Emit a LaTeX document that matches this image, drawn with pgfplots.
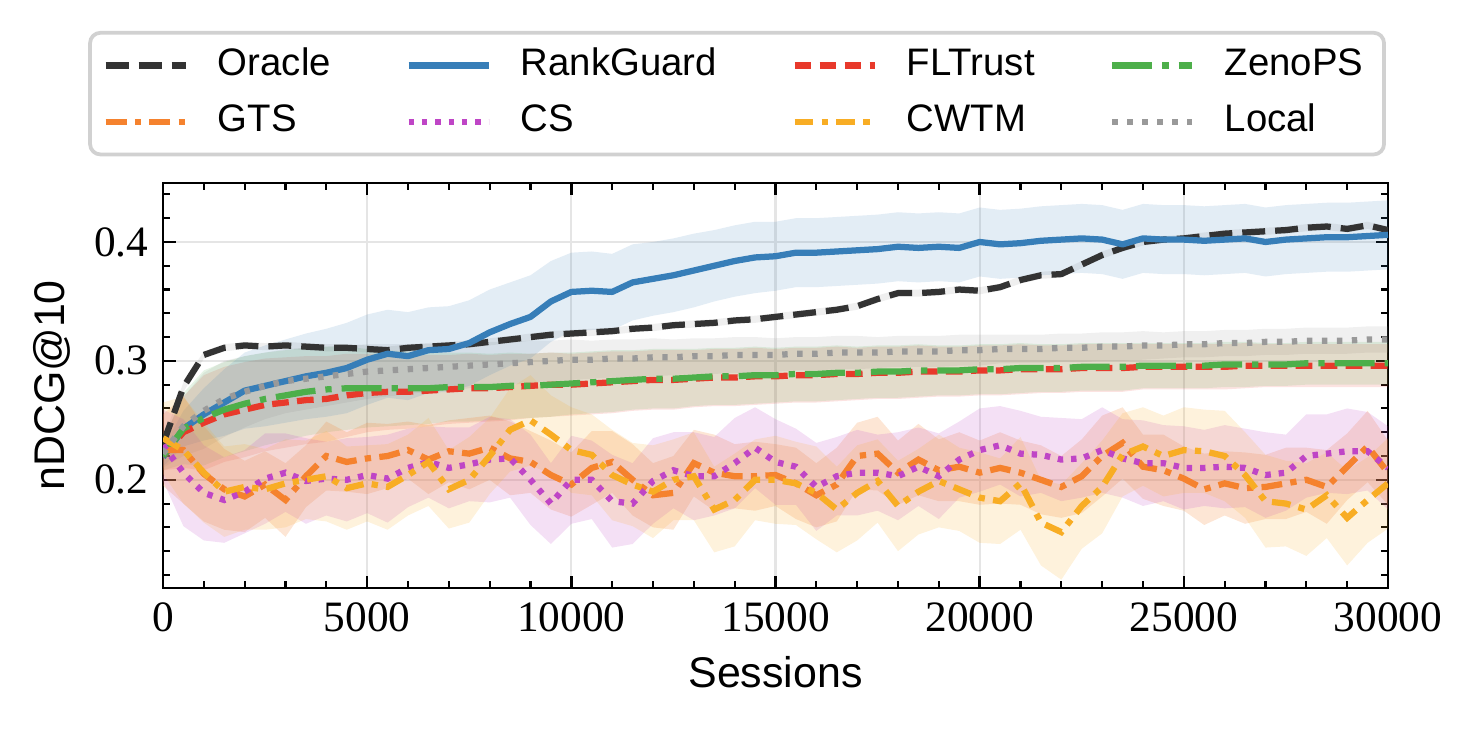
\documentclass[border=0pt]{standalone}
\usepackage{pgfplots}
\pgfplotsset{compat=1.18}
\usepackage{pgfplotstable}
\usepgfplotslibrary{fillbetween}
\usepackage{fontspec}
\setmainfont{Liberation Sans}
\newfontfamily\serifnum{Liberation Serif}

\definecolor{cOR}{HTML}{333333}
\definecolor{cRG}{HTML}{377EB8}
\definecolor{cFL}{HTML}{E8392B}
\definecolor{cZE}{HTML}{4DAF4A}
\definecolor{cGT}{HTML}{F5822E}
\definecolor{cCS}{HTML}{BF45C6}
\definecolor{cCW}{HTML}{F8AD24}
\definecolor{cLO}{HTML}{999999}

\pgfplotstableread{
x     or    ors   rg    rgs   fl    fls   ze    zes   gt    gts   cs    css   cw    cws   lo    los
0     0.230 0.003 0.219 0.008 0.220 0.012 0.220 0.012 0.225 0.030 0.229 0.030 0.235 0.030 0.222 0.012
500   0.278 0.004 0.243 0.015 0.240 0.030 0.243 0.030 0.225 0.045 0.206 0.045 0.225 0.045 0.245 0.025
1000  0.305 0.003 0.255 0.022 0.248 0.040 0.252 0.040 0.205 0.040 0.189 0.040 0.206 0.042 0.258 0.032
1500  0.311 0.003 0.265 0.028 0.255 0.040 0.259 0.040 0.192 0.034 0.183 0.036 0.190 0.038 0.268 0.032
2000  0.313 0.003 0.275 0.032 0.259 0.040 0.264 0.040 0.186 0.030 0.190 0.035 0.194 0.036 0.274 0.030
2500  0.312 0.003 0.279 0.034 0.263 0.039 0.268 0.039 0.196 0.028 0.201 0.038 0.192 0.034 0.279 0.028
3000  0.313 0.003 0.283 0.035 0.265 0.038 0.271 0.038 0.183 0.031 0.206 0.033 0.197 0.037 0.283 0.027
3500  0.312 0.003 0.287 0.036 0.267 0.037 0.274 0.037 0.203 0.026 0.199 0.036 0.200 0.033 0.285 0.026
4000  0.311 0.003 0.290 0.037 0.268 0.036 0.276 0.036 0.220 0.029 0.201 0.031 0.203 0.038 0.287 0.025
4500  0.311 0.003 0.294 0.038 0.271 0.035 0.277 0.035 0.215 0.025 0.200 0.035 0.193 0.035 0.289 0.024
5000  0.310 0.003 0.301 0.038 0.273 0.033 0.277 0.033 0.218 0.030 0.204 0.032 0.197 0.032 0.291 0.023
5500  0.309 0.003 0.306 0.037 0.274 0.032 0.277 0.032 0.220 0.027 0.201 0.037 0.194 0.036 0.292 0.022
6000  0.311 0.003 0.304 0.037 0.274 0.031 0.277 0.031 0.225 0.024 0.210 0.033 0.204 0.034 0.293 0.021
6500  0.312 0.003 0.309 0.036 0.275 0.030 0.277 0.030 0.217 0.029 0.215 0.030 0.215 0.037 0.294 0.020
7000  0.313 0.003 0.310 0.036 0.276 0.029 0.278 0.029 0.224 0.026 0.210 0.034 0.192 0.033 0.295 0.020
7500  0.314 0.003 0.315 0.036 0.277 0.029 0.278 0.029 0.222 0.030 0.213 0.031 0.200 0.036 0.296 0.019
8000  0.316 0.003 0.324 0.036 0.277 0.028 0.278 0.028 0.227 0.027 0.217 0.036 0.220 0.032 0.297 0.019
8500  0.318 0.003 0.331 0.035 0.278 0.028 0.279 0.028 0.218 0.031 0.218 0.033 0.242 0.035 0.298 0.018
9000  0.320 0.003 0.337 0.035 0.279 0.027 0.279 0.027 0.215 0.026 0.200 0.038 0.250 0.038 0.299 0.018
9500  0.322 0.003 0.350 0.034 0.280 0.027 0.280 0.027 0.204 0.029 0.180 0.034 0.238 0.033 0.300 0.017
10000 0.323 0.003 0.358 0.033 0.280 0.026 0.281 0.026 0.196 0.027 0.200 0.037 0.225 0.036 0.301 0.017
10500 0.324 0.003 0.359 0.033 0.281 0.026 0.282 0.026 0.210 0.031 0.200 0.033 0.221 0.034 0.301 0.016
11000 0.325 0.003 0.358 0.032 0.282 0.026 0.283 0.026 0.215 0.026 0.182 0.039 0.204 0.038 0.302 0.016
11500 0.327 0.003 0.366 0.032 0.283 0.025 0.284 0.025 0.200 0.030 0.180 0.034 0.196 0.035 0.302 0.016
12000 0.328 0.003 0.369 0.031 0.284 0.025 0.285 0.025 0.187 0.027 0.199 0.036 0.190 0.039 0.303 0.016
12500 0.330 0.003 0.372 0.031 0.284 0.025 0.285 0.025 0.189 0.031 0.208 0.032 0.200 0.034 0.303 0.015
13000 0.331 0.003 0.376 0.031 0.285 0.024 0.286 0.024 0.214 0.028 0.203 0.037 0.203 0.037 0.304 0.015
13500 0.332 0.003 0.380 0.030 0.286 0.024 0.287 0.024 0.206 0.032 0.203 0.033 0.175 0.036 0.304 0.015
14000 0.334 0.003 0.384 0.030 0.286 0.024 0.287 0.024 0.203 0.027 0.214 0.038 0.183 0.039 0.305 0.015
14500 0.335 0.003 0.387 0.030 0.287 0.024 0.288 0.024 0.203 0.029 0.227 0.034 0.200 0.034 0.305 0.015
15000 0.337 0.003 0.388 0.029 0.287 0.023 0.288 0.023 0.204 0.026 0.215 0.036 0.200 0.037 0.305 0.014
15500 0.339 0.003 0.391 0.029 0.288 0.023 0.289 0.023 0.197 0.030 0.211 0.032 0.197 0.035 0.306 0.014
16000 0.341 0.003 0.391 0.029 0.288 0.023 0.289 0.023 0.187 0.027 0.194 0.037 0.189 0.039 0.306 0.014
16500 0.343 0.003 0.392 0.029 0.289 0.023 0.290 0.023 0.196 0.031 0.203 0.033 0.175 0.036 0.307 0.014
17000 0.346 0.003 0.393 0.029 0.289 0.022 0.290 0.022 0.220 0.028 0.206 0.036 0.189 0.040 0.307 0.014
17500 0.352 0.003 0.394 0.029 0.290 0.022 0.291 0.022 0.222 0.031 0.206 0.032 0.199 0.035 0.307 0.013
18000 0.357 0.003 0.396 0.029 0.290 0.022 0.291 0.022 0.206 0.027 0.203 0.037 0.178 0.038 0.308 0.013
18500 0.357 0.003 0.395 0.029 0.291 0.022 0.292 0.022 0.217 0.030 0.211 0.033 0.190 0.036 0.308 0.013
19000 0.358 0.003 0.396 0.029 0.291 0.021 0.292 0.021 0.208 0.026 0.203 0.036 0.199 0.039 0.308 0.013
19500 0.360 0.003 0.395 0.029 0.291 0.021 0.292 0.021 0.211 0.029 0.217 0.032 0.192 0.035 0.309 0.013
20000 0.359 0.003 0.400 0.029 0.292 0.021 0.293 0.021 0.206 0.027 0.225 0.035 0.185 0.038 0.309 0.013
20500 0.362 0.003 0.398 0.029 0.292 0.021 0.293 0.021 0.210 0.030 0.229 0.033 0.182 0.036 0.310 0.012
21000 0.368 0.003 0.399 0.029 0.293 0.021 0.294 0.021 0.206 0.027 0.222 0.036 0.197 0.039 0.310 0.012
21500 0.372 0.003 0.401 0.029 0.293 0.020 0.294 0.020 0.200 0.029 0.221 0.032 0.164 0.036 0.310 0.012
22000 0.373 0.003 0.402 0.029 0.293 0.020 0.294 0.020 0.194 0.026 0.217 0.035 0.156 0.040 0.311 0.012
22500 0.381 0.003 0.403 0.029 0.294 0.020 0.295 0.020 0.203 0.031 0.218 0.033 0.178 0.036 0.311 0.012
23000 0.389 0.003 0.402 0.029 0.294 0.020 0.295 0.020 0.220 0.034 0.225 0.036 0.194 0.039 0.312 0.012
23500 0.395 0.003 0.398 0.029 0.294 0.020 0.295 0.020 0.231 0.030 0.218 0.033 0.221 0.035 0.312 0.012
24000 0.400 0.003 0.403 0.029 0.295 0.019 0.296 0.019 0.211 0.027 0.214 0.036 0.228 0.033 0.313 0.012
24500 0.402 0.003 0.402 0.029 0.295 0.019 0.296 0.019 0.208 0.030 0.214 0.032 0.220 0.034 0.313 0.011
25000 0.403 0.003 0.402 0.029 0.295 0.019 0.296 0.019 0.201 0.027 0.210 0.035 0.225 0.036 0.314 0.011
25500 0.405 0.003 0.401 0.029 0.295 0.019 0.296 0.019 0.192 0.030 0.210 0.032 0.224 0.035 0.314 0.011
26000 0.407 0.003 0.402 0.029 0.295 0.019 0.297 0.019 0.197 0.027 0.211 0.035 0.220 0.038 0.315 0.011
26500 0.408 0.003 0.403 0.029 0.296 0.019 0.297 0.019 0.193 0.030 0.210 0.033 0.204 0.036 0.315 0.011
27000 0.409 0.003 0.400 0.029 0.296 0.018 0.297 0.018 0.194 0.027 0.204 0.036 0.182 0.039 0.316 0.011
27500 0.410 0.003 0.402 0.029 0.296 0.018 0.297 0.018 0.197 0.030 0.206 0.032 0.180 0.036 0.316 0.011
28000 0.412 0.003 0.403 0.029 0.296 0.018 0.298 0.018 0.200 0.027 0.220 0.035 0.175 0.039 0.317 0.011
28500 0.413 0.003 0.404 0.029 0.296 0.018 0.298 0.018 0.194 0.031 0.222 0.033 0.187 0.036 0.317 0.011
29000 0.411 0.003 0.404 0.029 0.296 0.018 0.298 0.018 0.211 0.028 0.224 0.036 0.168 0.040 0.317 0.011
29500 0.414 0.003 0.405 0.029 0.296 0.018 0.298 0.018 0.228 0.030 0.224 0.033 0.183 0.036 0.318 0.011
30000 0.410 0.003 0.406 0.029 0.296 0.018 0.298 0.018 0.206 0.027 0.210 0.035 0.197 0.038 0.318 0.011
}\datatab

\newcommand{\band}[4]{%
  \addplot[name path=#1U, draw=none, forget plot] table[x=x, y expr=\thisrow{#1}+\thisrow{#2}] {\datatab};
  \addplot[name path=#1L, draw=none, forget plot] table[x=x, y expr=\thisrow{#1}-\thisrow{#2}] {\datatab};
  \addplot[fill=#3, fill opacity=#4, draw=none, forget plot] fill between[of=#1U and #1L];
}

\begin{document}
\begin{tikzpicture}
\begin{axis}[
  at={(0pt,0pt)}, anchor=south west,
  scale only axis, width=294pt, height=97.2pt,
  xmin=0, xmax=30000, ymin=0.109, ymax=0.4496,
  xtick={0,5000,10000,15000,20000,25000,30000},
  minor x tick num=4,
  ytick={0.2,0.3,0.4},
  minor ytick={0.12,0.14,0.16,0.18,0.22,0.24,0.26,0.28,0.32,0.34,0.36,0.38,0.42,0.44},
  scaled ticks=false,
  xticklabel style={/pgf/number format/1000 sep={}},
  yticklabel style={/pgf/number format/fixed, /pgf/number format/precision=1, /pgf/number format/fixed zerofill},
  /pgf/number format/assume math mode=true,
  tick label style={font=\serifnum\fontsize{10.4}{12}\selectfont, black},
  tick align=inside, tick pos=both,
  xticklabel pos=lower, yticklabel pos=left,
  major tick length=3pt, minor tick length=1.6pt,
  major tick style={black, line width=0.6pt},
  minor tick style={black, line width=0.5pt},
  axis line style={black, line width=0.7pt},
  grid=major,
  major grid style={black!10, line width=0.5pt},
  xlabel={Sessions}, ylabel={nDCG@10},
  label style={font=\fontsize{10.3}{12}\selectfont},
  xlabel style={at={(axis description cs:0.5,0)}, anchor=base, yshift=-23.8pt},
  ylabel style={at={(axis description cs:-0.0905,0.5)}, anchor=center},
  legend columns=4,
  legend cell align=left,
  legend image code/.code={\draw[#1] (0pt,0pt) -- (19.2pt,0pt);},
  legend style={
    at={(axis description cs:1,1)}, anchor=south east, yshift=6.4pt, xshift=-0.5pt,
    font=\fontsize{9.2}{11}\selectfont,
    draw=black!18, line width=0.9pt, rounded corners=2.5pt, fill=white,
    inner xsep=3pt, inner ysep=1.6pt,
    nodes={inner sep=2pt, text height=6.6pt, text depth=1.9pt},
    /tikz/row sep=1pt,
    /tikz/every odd column/.append style={column sep=5pt},
    /tikz/every even column/.append style={column sep=15.9pt},
  },
]
\band{lo}{los}{cLO}{0.15}
\band{fl}{fls}{cFL}{0.14}
\band{ze}{zes}{cZE}{0.14}
\band{rg}{rgs}{cRG}{0.14}
\band{or}{ors}{cOR}{0.08}
\band{gt}{gts}{cGT}{0.2}
\band{cs}{css}{cCS}{0.17}
\band{cw}{cws}{cCW}{0.16}

\addplot[cOR, line width=1.5pt, dash pattern=on 5.5pt off 2.4pt] table[x=x,y=or] {\datatab};
\addlegendentry{Oracle}
\addplot[cRG, line width=1.5pt, line join=round] table[x=x,y=rg] {\datatab};
\addlegendentry{RankGuard}
\addplot[cFL, line width=1.5pt, dash pattern=on 4pt off 2pt] table[x=x,y=fl] {\datatab};
\addlegendentry{FLTrust}
\addplot[cZE, line width=1.5pt, dash pattern=on 9.6pt off 2.4pt on 1.5pt off 2.4pt] table[x=x,y=ze] {\datatab};
\addlegendentry{ZenoPS}
\addplot[cGT, line width=1.5pt, dash pattern=on 5pt off 2pt on 1.5pt off 2pt] table[x=x,y=gt] {\datatab};
\addlegendentry{GTS}
\addplot[cCS, line width=1.5pt, dash pattern=on 1.3pt off 1.9pt] table[x=x,y=cs] {\datatab};
\addlegendentry{CS}
\addplot[cCW, line width=1.5pt, dash pattern=on 4.5pt off 2pt on 1.5pt off 2pt] table[x=x,y=cw] {\datatab};
\addlegendentry{CWTM}
\addplot[cLO, line width=1.5pt, dash pattern=on 1.3pt off 2.3pt] table[x=x,y=lo] {\datatab};
\addlegendentry{Local}
\end{axis}
\path (-39.12pt,-36pt) rectangle (316.56pt,141.12pt);
\end{tikzpicture}
\end{document}
